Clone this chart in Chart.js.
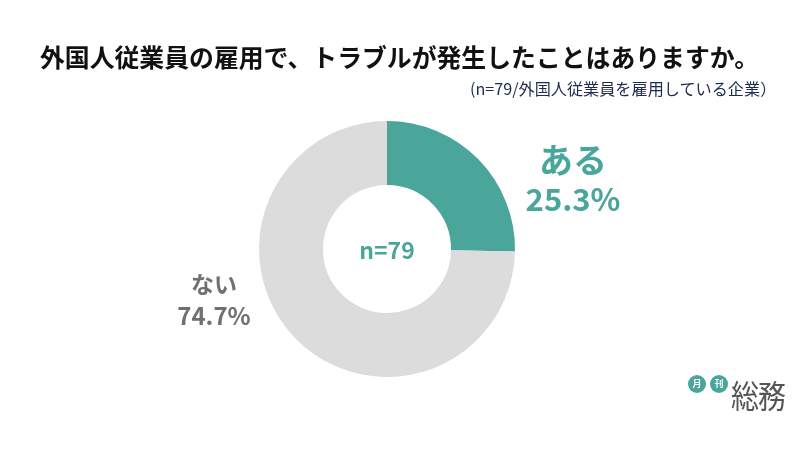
<!DOCTYPE html>
<html>
<head>
<meta charset="utf-8">
<script src="https://cdn.jsdelivr.net/npm/chart.js@4"></script>
<style>
html, body { margin: 0; padding: 0; background: #fff; }
#wrap { position: relative; width: 800px; height: 450px; overflow: hidden; font-family: "Noto Sans CJK JP", sans-serif; }
#chart { position: absolute; left: 0; top: 0; }
.t { position: absolute; white-space: nowrap; }
#logo { position: absolute; left: 688px; top: 374px; width: 100px; height: 36px; }
.dot { position: absolute; top: 1px; width: 18px; height: 18px; border-radius: 50%; background: #4aa59b; color: #fff; font-size: 9px; line-height: 18px; text-align: center; font-weight: 700; }
</style>
</head>
<body>
<div id="wrap">
  <canvas id="chart" width="800" height="450"></canvas>
  <div class="t" style="left:40px;top:39px;font-size:24.85px;font-weight:700;color:#111;line-height:34px">外国人従業員の雇用で、トラブルが発生したことはありますか。</div>
  <div class="t" style="left:470px;top:78px;font-size:16.15px;color:#1d2b50;line-height:20px">(n=79/外国人従業員を雇用している企業）</div>
  <div class="t" style="left:387px;top:233px;width:0;display:flex;justify-content:center;font-size:23px;font-weight:700;color:#4aa59b;line-height:32px">n=79</div>
  <div class="t" style="left:573px;top:138px;width:0;display:flex;justify-content:center;font-size:34px;font-weight:700;color:#4aa59b;line-height:42px">ある</div>
  <div class="t" style="left:573px;top:177px;width:0;display:flex;justify-content:center;font-size:31px;font-weight:700;color:#4aa59b;line-height:42px">25.3%</div>
  <div class="t" style="left:214px;top:267px;width:0;display:flex;justify-content:center;font-size:23px;font-weight:700;color:#707070;line-height:32px">ない</div>
  <div class="t" style="left:214px;top:297px;width:0;display:flex;justify-content:center;font-size:24px;font-weight:700;color:#707070;line-height:36px">74.7%</div>
  <div id="logo">
    <div class="dot" style="left:0">月</div>
    <div class="dot" style="left:22px">刊</div>
    <div class="t" style="left:43px;top:-2px;font-size:28px;font-weight:400;color:#555;line-height:38px;letter-spacing:-1px;transform:scaleY(1.15);transform-origin:top left">総務</div>
  </div>
</div>
<script>
var categories = ['ある', 'ない'];
var shares = [25.3, 74.7];
var sliceColors = ['#4aa59b', '#dcdcdc'];

var ctx = document.getElementById('chart').getContext('2d');
var chart = new Chart(ctx, {
  type: 'doughnut',
  data: {
    labels: categories,
    datasets: [{
      data: shares,
      backgroundColor: sliceColors,
      borderWidth: 0
    }]
  },
  options: {
    responsive: false,
    animation: false,
    cutout: '50%',
    layout: { padding: { top: 121, bottom: 73, left: 138, right: 164 } },
    plugins: {
      legend: { display: false },
      title: { display: false },
      tooltip: { enabled: false }
    }
  }
});
</script>
</body>
</html>
